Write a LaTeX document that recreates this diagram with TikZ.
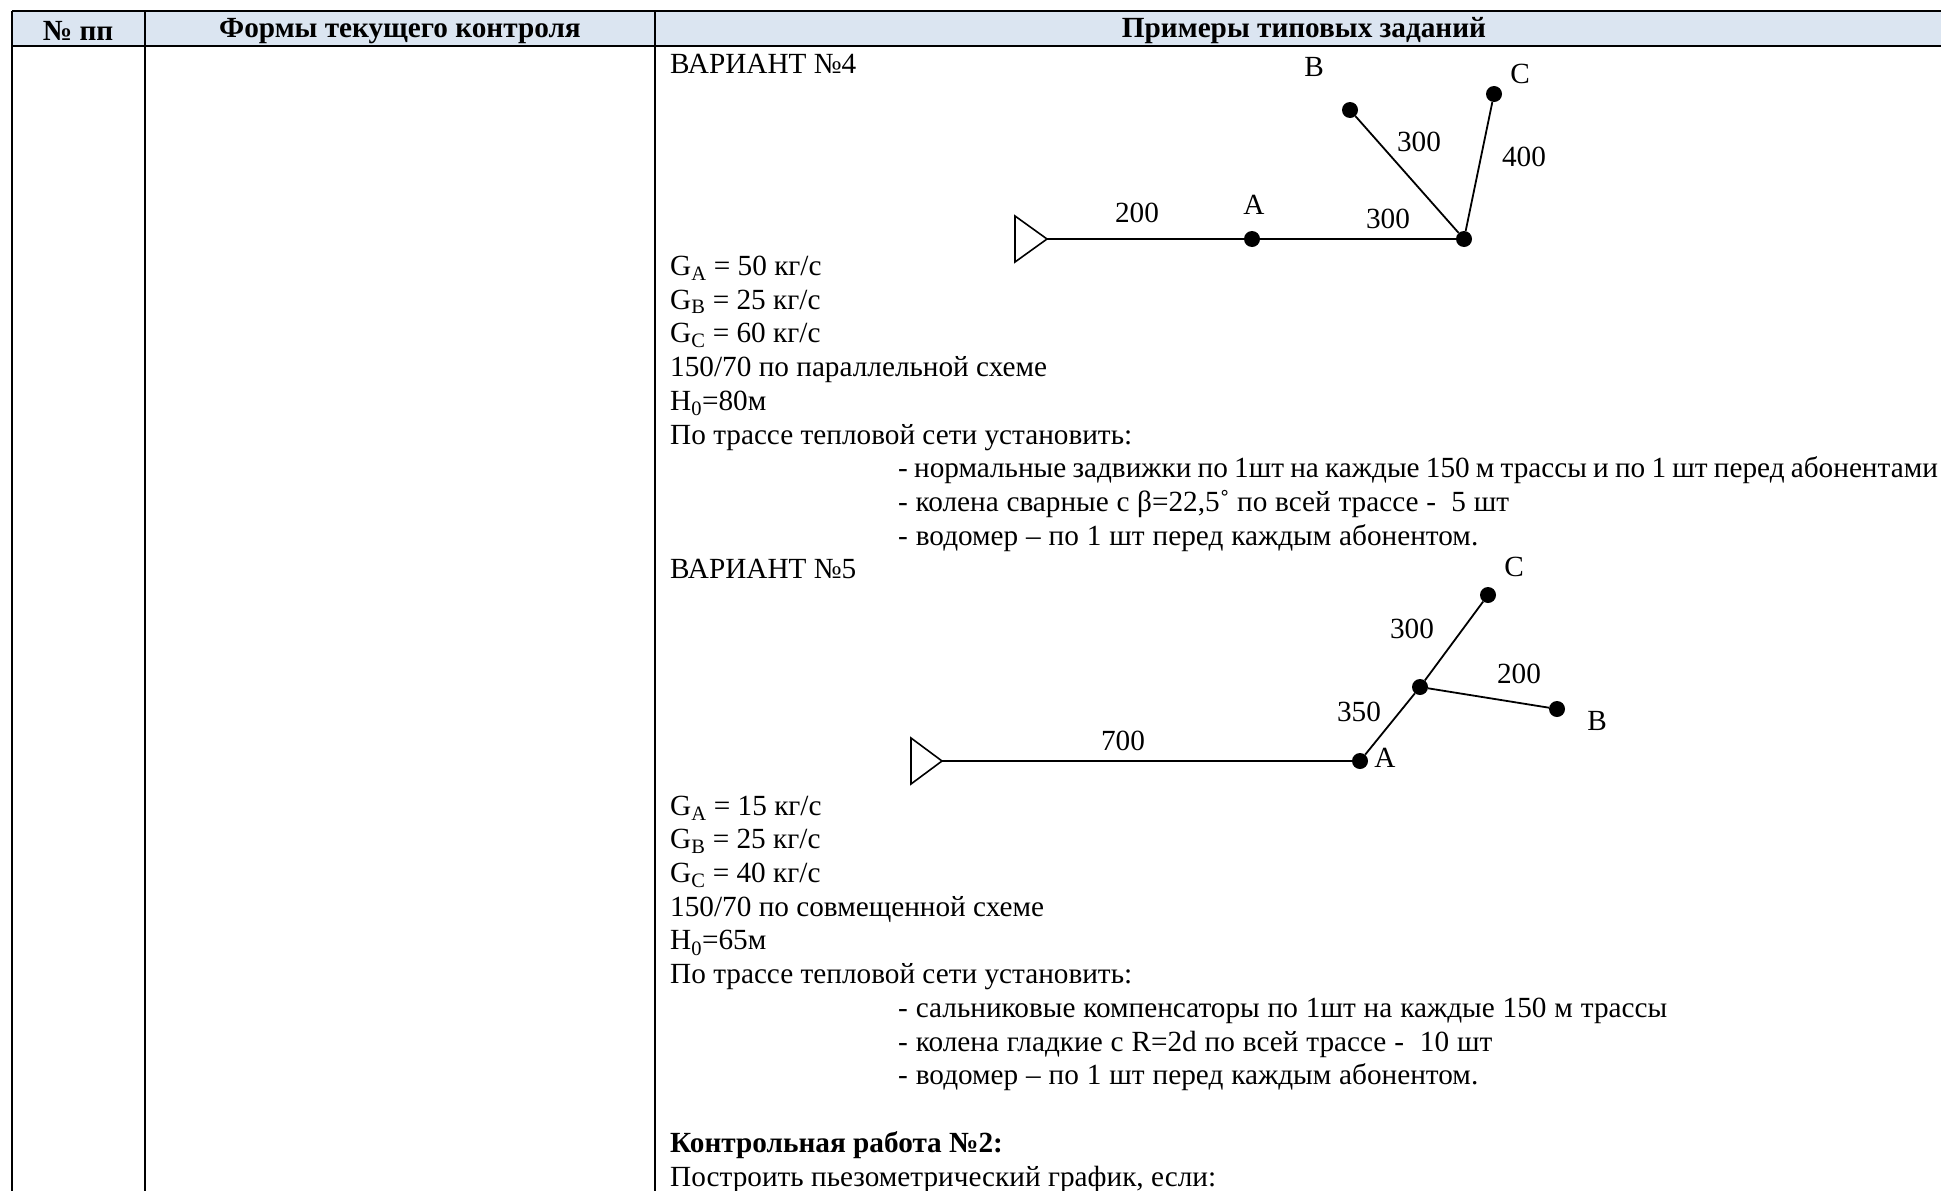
\documentclass[tikz,border=0pt]{standalone}
\usepackage{fontspec}
\setmainfont{Liberation Serif}
\definecolor{headblue}{HTML}{DBE5F1}
\tikzset{
    rowtext/.style={anchor=base west, inner sep=0pt, font=\fontsize{29.25}{33}\selectfont},
    headtext/.style={inner sep=0pt, font=\fontsize{29.25}{33}\selectfont\bfseries},
    lbl/.style={inner sep=0pt, font=\fontsize{29.25}{33}\selectfont},
    dotnode/.style={circle, fill=black, inner sep=0pt, minimum size=16pt},
    pipe/.style={line width=1.8pt},
    gridline/.style={line width=2pt}
}
\begin{document}
\begin{tikzpicture}[x=1pt, y=-1pt]
    \useasboundingbox (0,0) rectangle (1941,1191);

    % Table header
    \fill[headblue] (12,11) rectangle (1941,46);
    \draw[gridline] (12,11) -- (1941,11);
    \draw[gridline] (12,46) -- (1941,46);
    \foreach \x in {12,145,655} {
        \draw[gridline] (\x,11) -- (\x,1191);
    }
    \node[headtext] (headno) at (78,31) {№ пп};
    \node[headtext] (headform) at (400,31) {Формы текущего контроля};
    \node[headtext] (headtask) at (1304,31) {Примеры типовых заданий};

    % Text rows, left edge
    \foreach \row/\txt in {0/{ВАРИАНТ №4},
        6/{G\textsubscript{A} = 50 кг/с},
        7/{G\textsubscript{B} = 25 кг/с},
        8/{G\textsubscript{C} = 60 кг/с},
        9/{150/70 по параллельной схеме},
        10/{H\textsubscript{0}=80м},
        11/{По трассе тепловой сети установить:},
        15/{ВАРИАНТ №5},
        22/{G\textsubscript{A} = 15 кг/с},
        23/{G\textsubscript{B} = 25 кг/с},
        24/{G\textsubscript{C} = 40 кг/с},
        25/{150/70 по совмещенной схеме},
        26/{H\textsubscript{0}=65м},
        27/{По трассе тепловой сети установить:},
        32/{\textbf{Контрольная работа №2:}},
        33/{Построить пьезометрический график, если:}} {
        \node[rowtext] (row\row) at (670,73+33.73*\row) {\txt};
    }

    % Text rows, indented
    \foreach \row/\txt in {12/{\spaceskip=6.2pt - нормальные задвижки по 1шт на каждые 150 м трассы и по 1 шт перед абонентами},
        13/{\spaceskip=7.7pt - колена сварные с β=22,5˚ по всей трассе -\ \ 5 шт},
        14/{\spaceskip=7.9pt - водомер – по 1 шт перед каждым абонентом.},
        28/{\spaceskip=7.9pt - сальниковые компенсаторы по 1шт на каждые 150 м трассы},
        29/{\spaceskip=7.9pt - колена гладкие с R=2d по всей трассе -\ \ 10 шт},
        30/{\spaceskip=7.9pt - водомер – по 1 шт перед каждым абонентом.}} {
        \node[rowtext] (row\row) at (898,73+33.73*\row) {\txt};
    }

    % Scheme 4
    \coordinate (tipfour) at (1047,239);
    \draw[line width=1.6pt] (1015,216) -- (1015,262) -- (tipfour) -- cycle;
    \node[dotnode] (afour) at (1252,239) {};
    \node[dotnode] (jfour) at (1464,239) {};
    \node[dotnode] (bfour) at (1350,110) {};
    \node[dotnode] (cfour) at (1494,94) {};
    \draw[pipe] (tipfour) -- (afour);
    \draw[pipe] (afour) -- (jfour);
    \draw[pipe] (jfour) -- (bfour);
    \draw[pipe] (jfour) -- (cfour);
    \node[lbl] (ltwohundred) at (1137,213) {200};
    \node[lbl] (lafour) at (1254,205) {A};
    \node[lbl] (laj) at (1388,219) {300};
    \node[lbl] (lbj) at (1419,142) {300};
    \node[lbl] (lcj) at (1524,157) {400};
    \node[lbl] (lbfour) at (1314,67) {B};
    \node[lbl] (lcfour) at (1520,74) {C};

    % Scheme 5
    \coordinate (tipfive) at (942,761);
    \draw[line width=1.6pt] (911,738) -- (911,784) -- (tipfive) -- cycle;
    \node[dotnode] (afive) at (1360,761) {};
    \node[dotnode] (jfive) at (1420,687) {};
    \node[dotnode] (cfive) at (1488,595) {};
    \node[dotnode] (bfive) at (1557,709) {};
    \draw[pipe] (tipfive) -- (afive);
    \draw[pipe] (afive) -- (jfive);
    \draw[pipe] (jfive) -- (cfive);
    \draw[pipe] (jfive) -- (bfive);
    \node[lbl] (lseven) at (1123,741) {700};
    \node[lbl] (lafive) at (1385,758) {A};
    \node[lbl] (lthreefifty) at (1359,712) {350};
    \node[lbl] (lcfivej) at (1412,629) {300};
    \node[lbl] (lbfivej) at (1519,674) {200};
    \node[lbl] (lbfive) at (1597,721) {B};
    \node[lbl] (lcfive) at (1514,567) {C};
\end{tikzpicture}
\end{document}
